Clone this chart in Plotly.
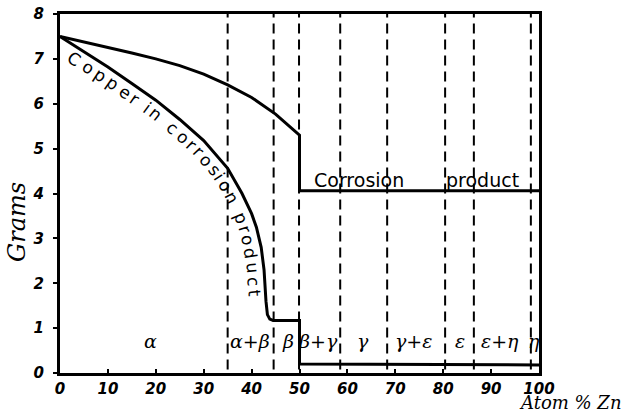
import numpy as np
import plotly.graph_objects as go

# Data
corr_x = [0, 5, 10, 15, 20, 25, 30, 35, 40, 45, 50, 50, 100]
corr_y = [7.5, 7.38, 7.26, 7.13, 7.0, 6.85, 6.66, 6.42, 6.14, 5.77, 5.3, 4.06, 4.06]

cu_x = [0, 5, 10, 15, 20, 25, 30, 35, 38, 40, 41, 42, 42.6, 43, 43.3, 43.8, 44.5, 50, 50, 100]
cu_y = [7.5, 7.15, 6.82, 6.45, 6.08, 5.65, 5.18, 4.56, 4.0, 3.55, 3.25, 2.8, 2.3, 1.6, 1.3, 1.2, 1.17, 1.17, 0.2, 0.18]

boundaries = [35, 44.6, 49.9, 58.5, 68.3, 80.4, 86.4, 98.3]

phase_labels = ["α", "α+β", "β", "β+γ", "γ", "γ+ε", "ε", "ε+η", "η"]
phase_x = [18.8, 39.7, 47.6, 53.9, 63.2, 73.7, 83.5, 91.9, 98.9]
phase_y = 0.72

curve_label = "Copper in corrosion product"

x_ticks = [0, 10, 20, 30, 40, 50, 60, 70, 80, 90, 100]
y_ticks = [0, 1, 2, 3, 4, 5, 6, 7, 8]

W, H = 632, 413
ML, MR, MT, MB = 60, 93, 14, 40
PW, PH = W - ML - MR, H - MT - MB
XR, YR = (0, 100), (0, 8)

def to_px(x, y):
    return (ML + (np.asarray(x) - XR[0]) / (XR[1] - XR[0]) * PW,
            MT + PH - (np.asarray(y) - YR[0]) / (YR[1] - YR[0]) * PH)

def to_data(px, py):
    return (XR[0] + (px - ML) / PW * (XR[1] - XR[0]),
            YR[0] + (MT + PH - py) / PH * (YR[1] - YR[0]))

fig = go.Figure()

for b in boundaries:
    fig.add_trace(go.Scatter(x=[b, b], y=[0.08, 8], mode="lines",
                             line=dict(color="black", width=2, dash="10px,6px"),
                             hoverinfo="skip", showlegend=False))

fig.add_trace(go.Scatter(x=corr_x, y=corr_y, mode="lines",
                         line=dict(color="black", width=3), showlegend=False))
fig.add_trace(go.Scatter(x=cu_x, y=cu_y, mode="lines",
                         line=dict(color="black", width=3), showlegend=False))

serif = "DejaVu Serif"
sans = "DejaVu Sans"

for lab, x in zip(phase_labels, phase_x):
    fig.add_annotation(x=x, y=phase_y, text=lab, showarrow=False,
                       font=dict(family=serif, size=19, color="black", style="italic"))

# --- text following the copper curve ---
n_curve = 15  # curved part of the copper line (before the bend)
cpx, cpy = to_px(cu_x[:n_curve], cu_y[:n_curve])
seg = np.hypot(np.diff(cpx), np.diff(cpy))
s_nodes = np.concatenate([[0], np.cumsum(seg)])
s_dense = np.arange(0, s_nodes[-1], 1.0)
dx_ = np.interp(s_dense, s_nodes, cpx)
dy_ = np.interp(s_dense, s_nodes, cpy)
s_start = s_dense[np.argmin(np.abs(dx_ - 80))]
s_end = s_dense[np.argmin(np.abs(dy_ - 292))]

em = {"C": .698, "o": .612, "p": .635, "e": .615, "r": .411, " ": .318, "i": .278,
      "n": .634, "c": .55, "s": .521, "d": .635, "u": .634, "t": .392}
wid = np.array([em.get(ch, .6) for ch in curve_label])
centers = np.cumsum(wid) - wid / 2
centers = (centers - centers[0]) / (centers[-1] - centers[0])
offset = 11
for ch, frac in zip(curve_label, centers):
    if ch == " ":
        continue
    s = s_start + frac * (s_end - s_start)
    ax_, ay_ = np.interp(s - 9, s_nodes, cpx), np.interp(s - 9, s_nodes, cpy)
    bx_, by_ = np.interp(s + 9, s_nodes, cpx), np.interp(s + 9, s_nodes, cpy)
    tx, ty = bx_ - ax_, by_ - ay_
    nrm = np.hypot(tx, ty)
    tx, ty = tx / nrm, ty / nrm
    px0 = np.interp(s, s_nodes, cpx) - ty * offset
    py0 = np.interp(s, s_nodes, cpy) + tx * offset
    xd, yd = to_data(px0, py0)
    ang = float(np.degrees(np.arctan2(ty, tx)))
    fig.add_annotation(x=float(xd), y=float(yd), text=ch, textangle=ang, showarrow=False,
                       xanchor="center", yanchor="middle",
                       font=dict(family=sans, size=17, color="black"))

fig.add_annotation(x=62.5, y=4.31, text="Corrosion", showarrow=False,
                   font=dict(family=sans, size=19, color="black"))
fig.add_annotation(x=88.2, y=4.31, text="product", showarrow=False,
                   font=dict(family=sans, size=19, color="black"))

fig.add_annotation(xref="paper", yref="paper", x=(570 - ML) / PW, y=-(402 - (MT + PH)) / PH,
                   text="Atom % Zn", showarrow=False, xanchor="center", yanchor="middle",
                   font=dict(family=serif, size=18, color="black", style="italic"))
fig.add_annotation(xref="paper", yref="paper", x=(17 - ML) / PW, y=(MT + PH - 222) / PH,
                   text="Grams", textangle=-90, showarrow=False, xanchor="center", yanchor="middle",
                   font=dict(family=serif, size=24, color="black", style="italic"))

fig.update_layout(
    width=W, height=H,
    margin=dict(l=ML, r=MR, t=MT, b=MB, autoexpand=False),
    paper_bgcolor="white", plot_bgcolor="white",
    xaxis=dict(range=list(XR), tickvals=x_ticks, ticks="inside", ticklen=4,
               tickwidth=2, tickcolor="black", automargin=False,
               showline=True, linewidth=3, linecolor="black", mirror=True,
               showgrid=False, zeroline=False, ticklabelstandoff=0,
               tickfont=dict(family=sans, size=15, color="black", style="italic", weight="bold")),
    yaxis=dict(range=list(YR), tickvals=y_ticks, ticks="outside", ticklen=4,
               tickwidth=2, tickcolor="black", automargin=False,
               showline=True, linewidth=3, linecolor="black", mirror=True,
               showgrid=False, zeroline=False, ticklabelstandoff=6,
               tickfont=dict(family=sans, size=15, color="black", style="italic", weight="bold")),
)

fig.write_html("out.html", config={"displayModeBar": False},
               post_script="document.body.style.margin='0';document.body.style.overflow='hidden';")
